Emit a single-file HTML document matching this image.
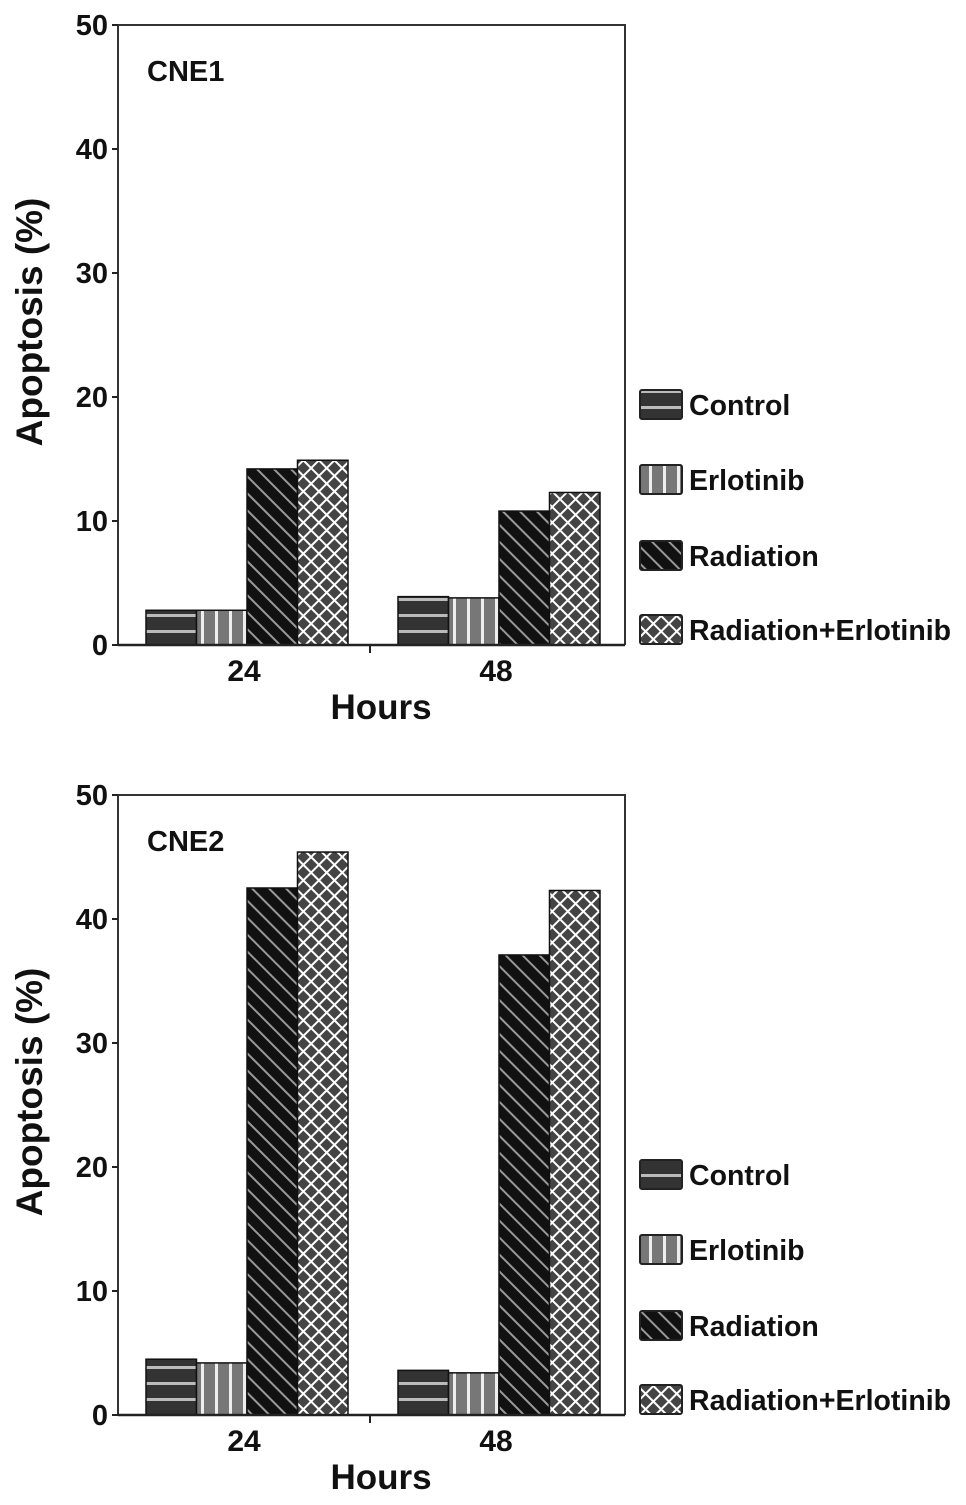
<!DOCTYPE html>
<html><head><meta charset="utf-8"><style>
body{margin:0;background:#fff}
svg text{font-family:"Liberation Sans",Arial,sans-serif;font-weight:bold;fill:#111}
</style></head><body>
<svg id="fig" width="966" height="1500" viewBox="0 0 966 1500" xmlns="http://www.w3.org/2000/svg">
<defs>
<pattern id="pCtrl" width="10" height="16" patternUnits="userSpaceOnUse"><rect width="10" height="16" fill="#333"/><rect y="6" width="10" height="3" fill="#bbb"/></pattern>
<pattern id="pErl" width="14" height="10" patternUnits="userSpaceOnUse"><rect width="14" height="10" fill="#777"/><rect x="5" width="3" height="10" fill="#eee"/></pattern>
<pattern id="pRad" width="12" height="12" patternUnits="userSpaceOnUse" patternTransform="rotate(45)"><rect width="12" height="12" fill="#111"/><rect x="0" y="5" width="12" height="2" fill="#999"/></pattern>
<pattern id="pRE" width="11" height="11" patternUnits="userSpaceOnUse" patternTransform="rotate(45)"><rect width="11" height="11" fill="#444"/><rect x="0" y="0" width="11" height="2" fill="#fff"/><rect x="0" y="0" width="2" height="11" fill="#fff"/></pattern>
</defs>
</svg>
<script>
const categories = ["24", "48"];
const seriesNames = ["Control", "Erlotinib", "Radiation", "Radiation+Erlotinib"];
const cne1Values = [[2.8, 3.9], [2.8, 3.8], [14.2, 10.8], [14.9, 12.3]];
const cne2Values = [[4.5, 3.6], [4.2, 3.4], [42.5, 37.1], [45.4, 42.3]];
const yTicks = [0, 10, 20, 30, 40, 50];
const panelTitles = ["CNE1", "CNE2"];

const NS = "http://www.w3.org/2000/svg";
const svg = document.getElementById("fig");
const fills = ["url(#pCtrl)", "url(#pErl)", "url(#pRad)", "url(#pRE)"];
function mk(tag, attrs, parent) {
  const e = document.createElementNS(NS, tag);
  for (const k in attrs) e.setAttribute(k, attrs[k]);
  (parent || svg).appendChild(e);
  return e;
}
function drawPanel(values, title, off) {
  const g = mk("g", {});
  
  
  const L = 118, R = 625, T = 25 + off, B = 645 + off;
  const yS = v => B - (v / 50) * (B - T);
  const groupStart = [146, 398];
  const bw = 50.5;
  values.forEach((ser, s) => {
    ser.forEach((v, c) => {
      const x = groupStart[c] + s * bw;
      const r = mk("rect", {x: x, y: yS(v), width: bw, height: B - yS(v), fill: fills[s], stroke: "#111", "stroke-width": 1.5}, g);
      
      
    });
  });
  const f = mk("path", {d: `M${L},${B} L${L},${T} L${R},${T} L${R},${B}`, fill: "none", stroke: "#333", "stroke-width": 2}, g);
  
  
  const xa = mk("line", {x1: L, x2: R, y1: B, y2: B, stroke: "#222", "stroke-width": 2.5}, g);
  
  
  yTicks.forEach(t => {
    mk("line", {x1: L - 6, x2: L, y1: yS(t), y2: yS(t), stroke: "#222", "stroke-width": 2}, g);
    const tx = mk("text", {x: 108, y: yS(t) + 10, "text-anchor": "end", "font-size": 29}, g);
    tx.textContent = t;
    
    
  });
  categories.forEach((c, i) => {
    const cx = groupStart[i] + bw * 2;
    const tx = mk("text", {x: cx - 3, y: B + 36, "text-anchor": "middle", "font-size": 30}, g);
    tx.textContent = c;
    
    
  });
  mk("line", {x1: 370, x2: 370, y1: B, y2: B + 8, stroke: "#222", "stroke-width": 2}, g);
  const xt = mk("text", {x: 381, y: B + 74, "text-anchor": "middle", "font-size": 35}, g);
  xt.textContent = "Hours";
  
  
  const yt = mk("text", {x: 0, y: 0, "text-anchor": "middle", "font-size": 37, transform: `translate(42,${(T + B) / 2 - 13}) rotate(-90)`}, g);
  yt.textContent = "Apoptosis (%)";
  
  
  const tt = mk("text", {x: 147, y: T + 56, "font-size": 29}, g);
  tt.textContent = title;
  
  
  const ly = [390, 465, 541, 615];
  seriesNames.forEach((n, s) => {
    const sw = mk("rect", {x: 640, y: ly[s] + off, width: 42, height: 29, fill: fills[s], stroke: "#222", "stroke-width": 2, rx: 2}, g);
    
    
    const lt = mk("text", {x: 689, y: ly[s] + off + 25, "font-size": 28.5}, g);
    lt.textContent = n;
    
    
  });
}
drawPanel(cne1Values, panelTitles[0], 0);
drawPanel(cne2Values, panelTitles[1], 770);
</script>
</body></html>
